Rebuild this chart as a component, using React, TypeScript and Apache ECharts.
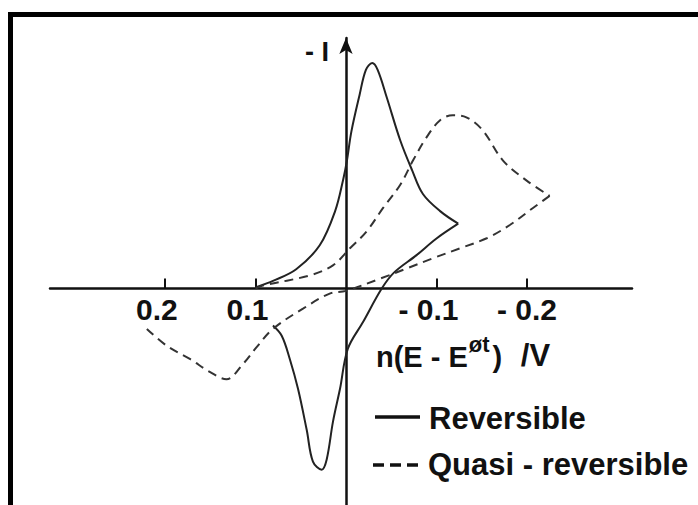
import React, { useEffect, useRef } from "react";
import * as echarts from "echarts";

// Potential n(E - E°') / V  and normalised current -I (peak of reversible = 1)
const reversibleForward: [number, number][] = [
  [0.100, 0.005], [0.080, 0.035], [0.055, 0.085], [0.029, 0.19], [0.012, 0.34],
  [0.003, 0.48], [-0.001, 0.56], [-0.006, 0.69], [-0.015, 0.85], [-0.022, 0.96],
  [-0.029, 0.99], [-0.035, 0.96], [-0.045, 0.84], [-0.060, 0.65], [-0.073, 0.52],
  [-0.085, 0.415], [-0.104, 0.34], [-0.124, 0.285],
];
const reversibleReverse: [number, number][] = [
  [-0.124, 0.285], [-0.100, 0.22], [-0.078, 0.147], [-0.053, 0.07], [-0.0395, 0.0],
  [-0.019, -0.146], [-0.002, -0.265], [0.0066, -0.44], [0.0144, -0.585], [0.0213, -0.75],
  [0.0269, -0.795], [0.0365, -0.76], [0.0434, -0.62], [0.053, -0.44], [0.062, -0.31],
  [0.071, -0.207], [0.0807, -0.162],
];
const quasiForward: [number, number][] = [
  [0.100, 0.0], [0.092, 0.013], [0.040, 0.058], [0.0144, 0.102], [-0.0044, 0.177],
  [-0.023, 0.252], [-0.041, 0.354], [-0.060, 0.456], [-0.074, 0.562], [-0.089, 0.664],
  [-0.104, 0.739], [-0.118, 0.761], [-0.133, 0.752], [-0.151, 0.695], [-0.1735, 0.562],
  [-0.200, 0.473], [-0.225, 0.407],
];
const quasiReverse: [number, number][] = [
  [-0.225, 0.407], [-0.2066, 0.354], [-0.181, 0.279], [-0.1555, 0.221], [-0.126, 0.177],
  [-0.096, 0.133], [-0.067, 0.088], [-0.038, 0.044], [0.0, -0.01], [0.018, -0.022],
  [0.0475, -0.088], [0.0807, -0.177], [0.0987, -0.257], [0.114, -0.332], [0.132, -0.398],
  [0.150, -0.367], [0.172, -0.31], [0.198, -0.251], [0.220, -0.177],
];
const tickValues = [0.2, 0.1, -0.1, -0.2];
const tickLabels: Record<string, string> = { "0.2": "0.2", "0.1": "0.1", "-0.1": "- 0.1", "-0.2": "- 0.2" };
const legendNames = ["Reversible", "Quasi - reversible"];

const FONT = "Liberation Sans, Arial, sans-serif";
const INK = "#111";

const GRID_TOP = 38;
const GRID_BOTTOM = 0;
const Y_MIN = -0.95;
const Y_MAX = 1.1;

export default function App() {
  const ref = useRef<HTMLDivElement>(null);
  useEffect(() => {
    if (!ref.current) return;
    const chart = echarts.init(ref.current, null, { renderer: "svg" });
    const solid = { color: "#222", width: 2, type: "solid" as const };
    const dashed = { color: "#333", width: 2, type: [9, 6] as any };
    // place the x axis (line, ticks and labels) on the zero-current line
    const gridH = 505 - GRID_TOP - GRID_BOTTOM;
    const zeroFromBottom = (0 - Y_MIN) / (Y_MAX - Y_MIN) * gridH;
    const labelStyle = { fontSize: 30, fontWeight: "bold", fontFamily: FONT, color: INK };
    chart.setOption({
      animation: false,
      backgroundColor: "#fff",
      grid: { left: 50, right: 66, top: GRID_TOP, bottom: GRID_BOTTOM, containLabel: false, outerBoundsMode: "none" },
      xAxis: {
        type: "value",
        inverse: true,
        min: -0.316,
        max: 0.327,
        position: "bottom",
        offset: -zeroFromBottom,
        axisLine: { onZero: false, lineStyle: { color: INK, width: 2.5 } },
        axisTick: {
          show: true,
          inside: true,
          length: 10,
          customValues: tickValues,
          lineStyle: { color: INK, width: 2 },
        },
        axisLabel: {
          show: true,
          customValues: tickValues,
          margin: 6,
          formatter: (v: number) => {
            const key = String(Math.round(v * 10) / 10);
            const t = tickLabels[key] ?? String(v);
            return v === -0.2 ? `{r|${t}}` : `{l|${t}}`;
          },
          rich: {
            l: { ...labelStyle, padding: [0, 16, 0, 0] },
            r: { ...labelStyle, padding: [0, 0, 0, 0] },
          },
        },
        splitLine: { show: false },
      },
      yAxis: {
        type: "value",
        min: Y_MIN,
        max: Y_MAX,
        axisLine: {
          show: true,
          onZero: true,
          symbol: ["none", "arrow"],
          symbolSize: [10, 16],
          lineStyle: { color: INK, width: 2.5 },
        },
        axisTick: { show: false },
        axisLabel: { show: false },
        splitLine: { show: false },
      },
      series: [
        { name: legendNames[0], type: "line", data: reversibleForward, smooth: 0.35, showSymbol: false, lineStyle: solid, z: 5 },
        { name: legendNames[0], type: "line", data: reversibleReverse, smooth: 0.35, showSymbol: false, lineStyle: solid, z: 5 },
        { name: legendNames[1], type: "line", data: quasiForward, smooth: 0.35, showSymbol: false, lineStyle: dashed, z: 5 },
        { name: legendNames[1], type: "line", data: quasiReverse, smooth: 0.35, showSymbol: false, lineStyle: dashed, z: 5 },
      ],
      graphic: [
        {
          type: "polyline",
          shape: { points: [[10.5, 505], [10.5, 14.5], [698, 14.5]] },
          style: { stroke: "#000", lineWidth: 5, fill: null },
          z: 10,
        },
        {
          type: "text",
          x: 305,
          y: 52,
          style: { text: "- I", font: `bold 27px ${FONT}`, fill: INK, textAlign: "left", textVerticalAlign: "middle" },
        },
        {
          type: "text",
          x: 376,
          y: 352,
          style: {
            text: "{b|n(E - E}{s|øt}{b|)}{v| /V}",
            textAlign: "left",
            textVerticalAlign: "middle",
            rich: {
              b: { fontSize: 29, fontWeight: "bold", fontFamily: FONT, fill: INK, color: INK, verticalAlign: "bottom", lineHeight: 38 },
              s: { fontSize: 22, fontWeight: "bold", fontFamily: FONT, fill: INK, color: INK, verticalAlign: "top", lineHeight: 38, padding: [0, 3, 0, 1] },
              v: { fontSize: 31, fontWeight: "bold", fontFamily: FONT, fill: INK, color: INK, verticalAlign: "bottom", lineHeight: 38, padding: [0, 0, 0, 10] },
            },
          },
        },
        {
          type: "line",
          shape: { x1: 375, y1: 417, x2: 420, y2: 417 },
          style: { stroke: INK, lineWidth: 3.5 },
        },
        {
          type: "text",
          x: 429,
          y: 418,
          style: { text: legendNames[0], font: `bold 31px ${FONT}`, fill: INK, textAlign: "left", textVerticalAlign: "middle" },
        },
        {
          type: "line",
          shape: { x1: 373, y1: 465, x2: 423, y2: 465 },
          style: { stroke: INK, lineWidth: 3.5, lineDash: [11, 6] },
        },
        {
          type: "text",
          x: 428,
          y: 464,
          style: { text: legendNames[1], font: `bold 31px ${FONT}`, fill: INK, textAlign: "left", textVerticalAlign: "middle" },
        },
      ],
    });
    return () => chart.dispose();
  }, []);
  return (
    <div
      ref={ref}
      style={{ position: "fixed", left: 0, top: 0, width: 698, height: 505, background: "#fff" }}
    />
  );
}
